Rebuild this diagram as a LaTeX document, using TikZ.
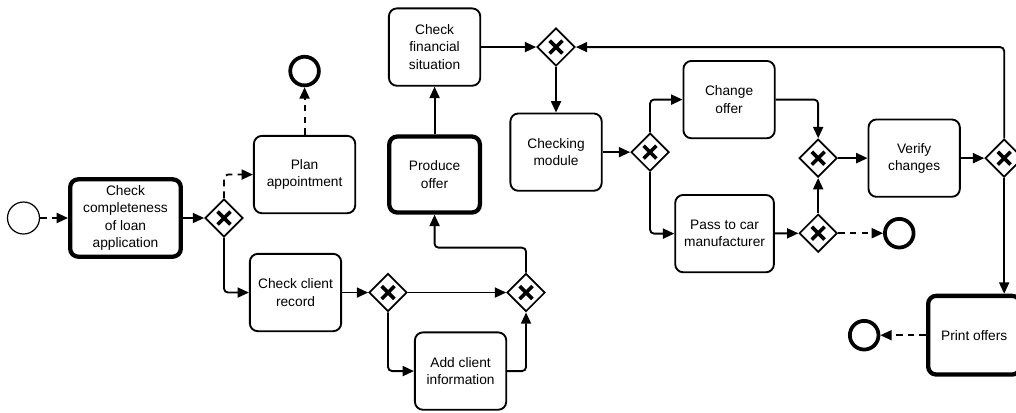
\documentclass[tikz,border=0pt]{standalone}
\usepackage{fontspec}
\setmainfont{Liberation Sans}
\usetikzlibrary{arrows.meta, positioning, shapes.geometric}

\tikzset{
  task/.style={draw, rounded corners=6pt, line width=1.4pt, align=center,
    minimum width=68.5pt, minimum height=58pt, inner sep=1pt},
  bigtask/.style={task, line width=3.2pt},
  gate/.style={draw, diamond, aspect=1, line width=1.3pt, inner sep=0pt,
    minimum width=28.5pt, minimum height=28.5pt,
    path picture={\draw[line width=2.7pt]
      (path picture bounding box.center) +(-4.8pt,-4.8pt) -- +(4.8pt,4.8pt)
      (path picture bounding box.center) +(-4.8pt,4.8pt) -- +(4.8pt,-4.8pt);}},
  startev/.style={draw, circle, line width=0.9pt, minimum size=24pt, inner sep=0pt},
  endev/.style={draw, circle, line width=2.8pt, minimum size=21.5pt, inner sep=0pt},
  flow/.style={-{Triangle[length=8.5pt,width=7.5pt]}, line width=1.4pt, rounded corners=3pt},
  dflow/.style={flow, dash pattern=on 5pt off 3.8pt},
}

\begin{document}
\begin{tikzpicture}[x=0.75pt, y=-0.75pt, node distance=2cm]
    \fontsize{10.3}{13}\selectfont
    %
    \useasboundingbox (0,0) rectangle (1016,412);
    \node [startev] (s) at (23.5,218) {};
    \node [bigtask, right of=s, node distance=76.5pt, minimum width=83pt] (cc) {Check\\completeness\\of loan\\application};
    \node [gate, right of=cc, node distance=73.9pt] (x1) {};
    \node [task, right of=x1, node distance=60.4pt, yshift=32.6pt, minimum width=76pt] (pa) {Plan\\appointment};
    \node [endev, above of=pa, node distance=77.6pt] (e1) {};
    \node [task, right of=x1, node distance=53.6pt, yshift=-55.9pt] (cr) {Check client\\record};
    \node [gate, right of=cr, node distance=69.4pt] (x2) {};
    \node [gate, right of=x2, node distance=103.5pt] (x3) {};
    \node [task, right of=x2, node distance=54.4pt, yshift=-58.9pt] (ac) {Add client\\information};
    \node [bigtask, right of=pa, node distance=97.5pt, minimum width=68pt, minimum height=57pt] (po) {Produce\\offer};
    \node [task, above of=po, node distance=95.6pt] (fs) {Check\\financial\\situation};
    \node [gate, right of=fs, node distance=91.1pt] (x4) {};
    \node [task, below of=x4, node distance=78.8pt] (cm) {Checking\\module};
    \node [gate, right of=cm, node distance=70.5pt] (x5) {};
    \node [task, right of=x5, node distance=59.3pt, yshift=39.4pt] (co) {Change\\offer};
    \node [task, right of=x5, node distance=55.9pt, yshift=-61.1pt, minimum width=74pt] (pm) {Pass to car\\manufacturer};
    \node [gate, right of=co, node distance=66.8pt, yshift=-43.9pt] (x6) {};
    \node [gate, below of=x6, node distance=56.3pt] (x7) {};
    \node [endev, right of=x7, node distance=60.8pt] (e2) {};
    \node [task, right of=x6, node distance=72pt] (vc) {Verify\\changes};
    \node [gate, right of=vc, node distance=67.5pt] (x8) {};
    \node [bigtask, below of=x8, node distance=132.8pt, xshift=-22.5pt, minimum width=69pt, minimum height=59pt] (pr) {Print offers};
    \node [endev, left of=pr, node distance=82.5pt] (e3) {};
    %
    \path (s) edge[dflow] (cc);
    \path (cc) edge[flow] (x1);
    \draw[dflow] (x1.north) |- (pa);
    \path (pa) edge[dflow] (e1);
    \draw[flow] (x1.south) |- (cr);
    \path (cr) edge[flow] (x2);
    \path (x2) edge[flow] (x3);
    \draw[flow] (x2.south) |- (ac);
    \draw[flow] (ac.east) -| (x3.south);
    \draw[flow] (x3.north) -- ++(0,-25) -| (po.south);
    \path (po) edge[flow] (fs);
    \path (fs) edge[flow] (x4);
    \draw[flow] (x8.north) |- (x4.east);
    \path (x4) edge[flow] (cm);
    \path (cm) edge[flow] (x5);
    \draw[flow] (x5.north) |- (co);
    \draw[flow] (x5.south) |- (pm);
    \draw[flow] (co.east) -| (x6.north);
    \path (pm) edge[flow] (x7);
    \path (x7) edge[flow] (x6);
    \path (x7) edge[dflow] (e2);
    \path (x6) edge[flow] (vc);
    \path (vc) edge[flow] (x8);
    \draw[flow] (x8.south) -- (x8.south |- pr.north);
    \path (pr) edge[dflow] (e3);
\end{tikzpicture}
\end{document}
